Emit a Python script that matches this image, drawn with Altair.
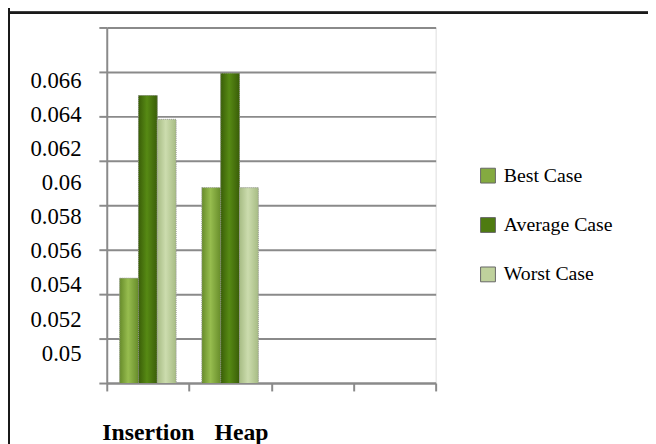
import altair as alt
import numpy as np
import pandas as pd

# ---- data ----
algorithms = ["Insertion", "Heap"]
cases = ["Best Case", "Average Case", "Worst Case"]
best_case = [0.0544, 0.0597]
average_case = [0.0651, 0.0664]
worst_case = [0.0637, 0.0597]
y_tick_labels = [0.05, 0.052, 0.054, 0.056, 0.058, 0.06, 0.062, 0.064, 0.066]

rows = []
for i, alg in enumerate(algorithms):
    for case, vals in zip(cases, [best_case, average_case, worst_case]):
        rows.append({"algorithm": alg, "case": case, "value": vals[i]})
df = pd.DataFrame(rows)

# axis/scale setup (empty category slots as in the original)
x_domain = algorithms + [" ", "  "]
Y_MIN, Y_MAX = 0.048265, 0.069083
grid_values = [float(v) for v in np.linspace(Y_MIN, Y_MAX, 9)]
labels_df = pd.DataFrame({"v": y_tick_labels})

colors = ["#84AA40", "#4E7B10", "#BFD19C"]
# cylinder-like shading: (edge, centre) per series
shades = [("#678C2A", "#97BD4F"), ("#3A5E08", "#578A14"), ("#A7BC84", "#CCDCAE")]
GRID = "#8a8a8a"
FONT = "Liberation Serif"

yscale = alt.Scale(domain=[Y_MIN, Y_MAX], zero=False, nice=False)
xscale = alt.Scale(domain=x_domain, paddingInner=0, paddingOuter=0)
oscale = alt.Scale(domain=cases, paddingOuter=0.69, paddingInner=0)

x_axis = alt.Axis(title=None, tickBand="extent", tickSize=8, tickColor=GRID, tickWidth=2,
                  domainColor=GRID, domainWidth=2, labelFont=FONT, labelFontSize=24,
                  labelFontWeight="bold", labelColor="black", labelPadding=30, labelAngle=0,
                  labelOffset={"condition": {"test": "datum.value == 'Heap'", "value": 11}, "value": 0},
                  grid=False)
x_enc = alt.X("algorithm:N", scale=xscale, axis=x_axis)
off_enc = alt.XOffset("case:N", sort=cases, scale=oscale)

bars = alt.Chart(df).mark_bar(clip=True, stroke="#9a9a9a", strokeWidth=0.8, strokeDash=[1, 1]).encode(
    x=x_enc,
    xOffset=off_enc,
    y=alt.Y("value:Q", scale=yscale,
            axis=alt.Axis(title=None, orient="left", values=grid_values, labels=False, grid=True,
                          gridColor=GRID, gridWidth=2, tickSize=8, tickColor=GRID, tickWidth=2,
                          domainColor=GRID, domainWidth=2)),
    color=alt.Color("case:N", sort=cases, scale=alt.Scale(domain=cases, range=colors),
                    legend=alt.Legend(title=None, orient="none", legendX=376, legendY=140,
                                      symbolType="square", symbolSize=225, symbolStrokeColor="#666",
                                      symbolStrokeWidth=1, labelFont=FONT, labelFontSize=20,
                                      labelColor="black", rowPadding=30, labelOffset=6, padding=0)),
)

shade_layers = []
for case, (edge, centre) in zip(cases, shades):
    grad = alt.Gradient(gradient="linear", x1=0, x2=1, y1=0, y2=0,
                        stops=[alt.GradientStop(color=edge, offset=0),
                               alt.GradientStop(color=centre, offset=0.45),
                               alt.GradientStop(color=edge, offset=1)])
    shade_layers.append(
        alt.Chart(df).transform_filter(alt.datum.case == case)
        .mark_bar(clip=True, color=grad, stroke="#9a9a9a", strokeWidth=0.8, strokeDash=[1, 1])
        .encode(x=x_enc, xOffset=off_enc,
                y=alt.Y("value:Q", scale=yscale, axis=None))
    )

label_axis = alt.Chart(labels_df).mark_point(opacity=0).encode(
    y=alt.Y("v:Q", scale=yscale,
            axis=alt.Axis(title=None, orient="left", values=y_tick_labels, grid=False, ticks=False,
                          domain=False, labelFont=FONT, labelFontSize=23, labelColor="black",
                          labelPadding=26, format="~g", labelOverlap=False, labelFlush=False)),
)

frame_top = alt.Chart(df).mark_rule(color="#1a1a1a", strokeWidth=2).encode(
    x=alt.value(-120), x2=alt.value(700), y=alt.value(-15))
frame_left = alt.Chart(df).mark_rule(color="#1a1a1a", strokeWidth=2).encode(
    x=alt.value(-99), y=alt.value(-30), y2=alt.value(600))

chart = alt.layer(bars, *shade_layers, label_axis, frame_top, frame_left).resolve_axis(
    y="independent").properties(
    width=333, height=360,
    autosize=alt.AutoSizeParams(type="none"),
    padding={"left": 100, "top": 17, "right": 215, "bottom": 59},
).configure_view(stroke=None).configure(background="white")

chart.save("out.html", embed_options={"renderer": "svg", "actions": False})
